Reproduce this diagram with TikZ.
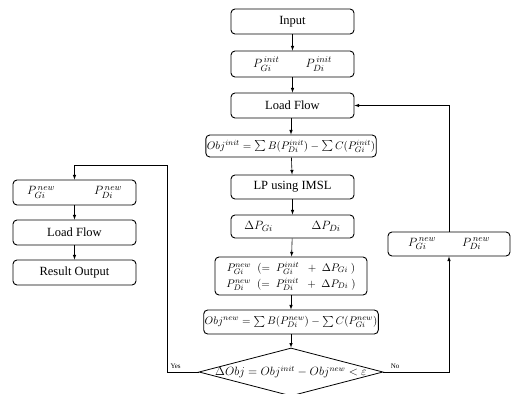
\documentclass[tikz,border=0pt]{standalone}
\usepackage{fontspec}
\setmainfont{Liberation Serif}
\usepackage{amsmath}
\usetikzlibrary{shapes.geometric}

\begin{document}
\begin{tikzpicture}[x=1pt, y=-1pt, >=latex,
    procbox/.style={draw, line width=0.9pt, rounded corners=4pt, inner sep=1pt, font=\fontsize{12.5}{14}\selectfont},
    mathbox/.style={procbox, font=\fontsize{13}{15}\selectfont},
    eqbox/.style={procbox, font=\fontsize{11}{13}\selectfont},
    decbox/.style={draw, line width=0.8pt, diamond, inner sep=0pt},
    flow/.style={->, line width=0.6pt}]
    \useasboundingbox (0,0) rectangle (513,393);

    % Main column
    \node[procbox, minimum width=123, minimum height=25] (input) at (292.5,21.5) {Input};
    \node[mathbox, minimum width=123, minimum height=26] (pinit) at (292.5,64) {$P^{\,init}_{Gi}\qquad P^{\,init}_{Di}$};
    \node[procbox, minimum width=123, minimum height=25] (lfmain) at (292.5,105.5) {Load Flow};
    \node[eqbox, minimum width=152, minimum height=22] (objinit) at (291,146) {$Obj^{init}=\sum B(P_{Di}^{init})-\sum C(P_{Gi}^{init})$};
    \node[procbox, minimum width=123, minimum height=24] (lp) at (292.5,187) {LP using IMSL};
    \node[mathbox, minimum width=123, minimum height=23] (dp) at (292.5,226.5) {$\Delta P_{Gi}\qquad\quad \Delta P_{Di}$};
    \node[eqbox, minimum width=152, minimum height=38, align=center] (pnew) at (291,276)
        {$P_{Gi}^{new}\;\;(=\;P_{Gi}^{init}\;\;+\;\Delta P_{Gi}\;)$\\[3pt] $P_{Di}^{new}\;\;(=\;P_{Di}^{init}\;\;+\;\Delta P_{Di}\;)$};
    \node[eqbox, minimum width=152, minimum height=24] (objnew) at (291,322) {$Obj^{new}=\sum B(P_{Di}^{new})-\sum C(P_{Gi}^{new})$};
    \node[decbox, minimum width=184, minimum height=48] (check) at (291,372) {};
    \node[font=\fontsize{12}{14}\selectfont] (checktxt) at (check) {$\Delta Obj = Obj^{init}-Obj^{new}<\varepsilon$};

    % Left column (Yes)
    \node[mathbox, minimum width=123, minimum height=25] (pnewl) at (74.5,192.5) {$P^{\,new}_{Gi}\qquad\quad P^{\,new}_{Di}$};
    \node[procbox, minimum width=123, minimum height=25] (lfout) at (74.5,232.5) {Load Flow};
    \node[procbox, minimum width=123, minimum height=25] (result) at (74.5,272.5) {Result Output};

    % Right box (No)
    \node[mathbox, minimum width=122, minimum height=24] (pnewr) at (449,244) {$P^{\,new}_{Gi}\qquad P^{\,new}_{Di}$};

    % Loop corners
    \coordinate (yesdown) at (167,372);
    \coordinate (yesup) at (167,165);
    \coordinate (yesleft) at (74.5,165);
    \coordinate (nodown) at (449,372);
    \coordinate (noup) at (449,105.5);

    % Connectors
    \draw[flow] (input) -- (pinit);
    \draw[flow] (pinit) -- (lfmain);
    \draw[flow] (lfmain.south -| objinit.north) -- (objinit.north);
    \draw[flow] (objinit) -- (lp);
    \draw[flow] (lp) -- (dp);
    \draw[flow] (dp) -- (pnew);
    \draw[flow] (pnew) -- (objnew);
    \draw[flow] (objnew) -- (check);
    \draw[flow] (check.west) -- (yesdown) -- (yesup) -- (yesleft) -- (pnewl.north);
    \draw[flow] (pnewl) -- (lfout);
    \draw[flow] (lfout) -- (result);
    \draw[flow] (check.east) -- (nodown) -- (pnewr.south);
    \draw[flow] (pnewr.north) -- (noup) -- (lfmain.east);

    % Branch labels
    \node[font=\scriptsize, anchor=south west] (yeslbl) at (yesdown) {Yes};
    \node[font=\scriptsize, anchor=south west] (nolbl) at ([xshift=4pt]check.east) {No};
\end{tikzpicture}
\end{document}
